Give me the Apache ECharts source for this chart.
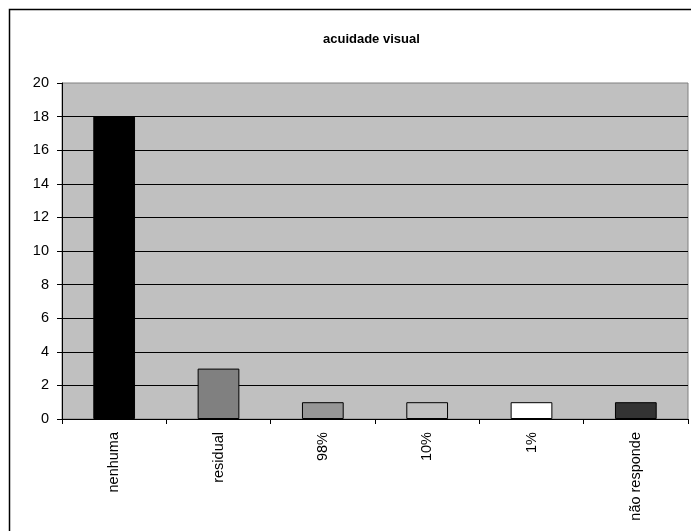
<!DOCTYPE html>
<html><head><meta charset="utf-8">
<script src="https://cdn.jsdelivr.net/npm/echarts@6/dist/echarts.min.js"></script>
<style>html,body{margin:0;padding:0;background:#fff}#c{width:691px;height:531px}</style>
</head><body><div id="c"></div>
<script>
const categories = ['nenhuma', 'residual', '98%', '10%', '1%', 'não responde'];
const values = [18, 3, 1, 1, 1, 1];
const barColors = ['#000000', '#808080', '#969696', '#C0C0C0', '#FFFFFF', '#333333'];
const yTicks = { min: 0, max: 20, interval: 2 };

const chart = echarts.init(document.getElementById('c'), null, { renderer: 'canvas' });
chart.setOption({
  animation: false,
  backgroundColor: '#fff',
  title: {
    text: 'acuidade visual', left: 318, top: 28,
    textStyle: { fontFamily: 'Liberation Sans, Arial', fontSize: 13, fontWeight: 'bold', color: '#000' }
  },
  graphic: [{
    type: 'rect', shape: { x: 9.5, y: 9.5, width: 700, height: 540 },
    style: { fill: 'none', stroke: '#000', lineWidth: 1.5 }, silent: true, z: 100
  }],
  grid: {
    left: 62, top: 83, right: 3, bottom: 112,
    show: true, backgroundColor: '#C0C0C0', borderColor: '#808080', borderWidth: 1
  },
  xAxis: {
    type: 'category', data: categories,
    axisLine: { lineStyle: { color: '#000', width: 1 } },
    axisTick: { show: true, length: 5, lineStyle: { color: '#000' } },
    axisLabel: { rotate: 90, color: '#000', fontSize: 14.5, fontFamily: 'Liberation Sans, Arial', margin: 13 }
  },
  yAxis: {
    type: 'value', min: yTicks.min, max: yTicks.max, interval: yTicks.interval,
    axisLine: { show: true, lineStyle: { color: '#000', width: 1 } },
    axisTick: { show: true, length: 5, lineStyle: { color: '#000' } },
    axisLabel: { color: '#000', fontSize: 14.5, fontFamily: 'Liberation Sans, Arial', margin: 13 },
    splitLine: { show: true, showMaxLine: false, lineStyle: { color: '#000', width: 1 } }
  },
  series: [{
    type: 'bar',
    data: values.map((v, i) => ({ value: v, itemStyle: { color: barColors[i] } })),
    barCategoryGap: '60%',
    itemStyle: { borderColor: '#000', borderWidth: 1 }
  }]
});
</script></body></html>
